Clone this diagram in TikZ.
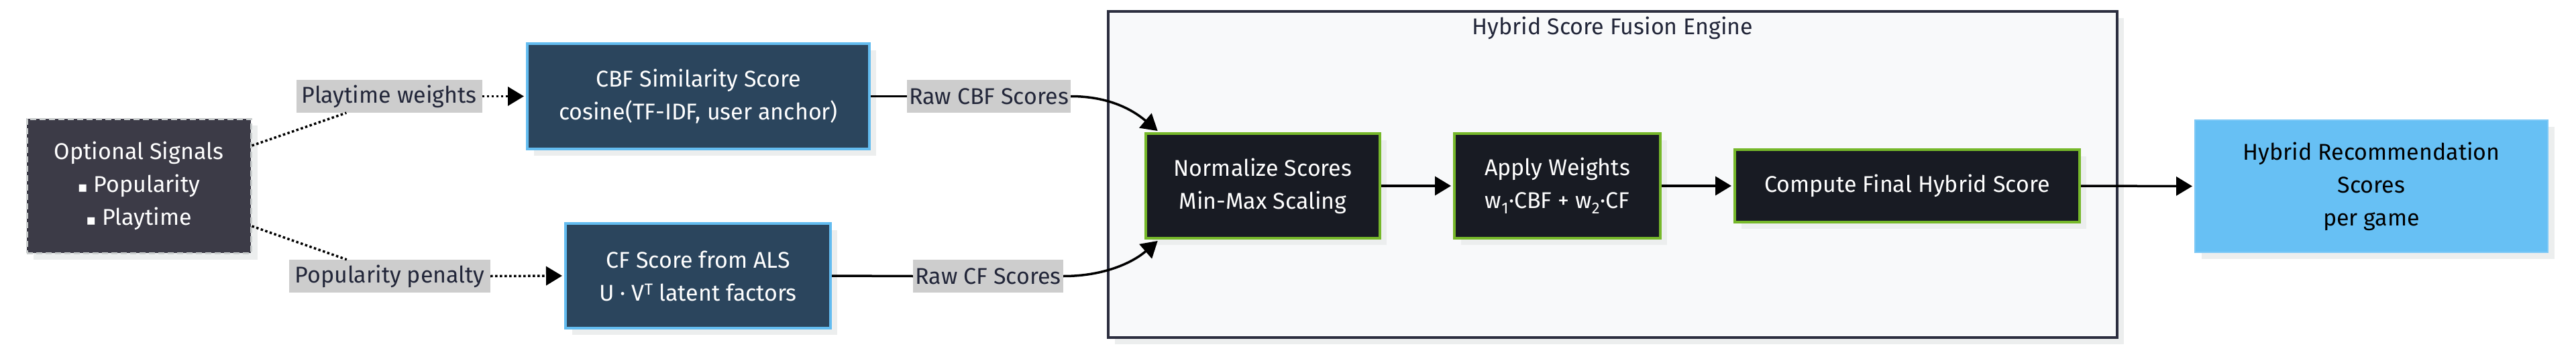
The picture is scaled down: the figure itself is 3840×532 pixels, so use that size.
\documentclass[tikz,border=0pt]{standalone}
\usepackage{fontspec}
\setmainfont{Fira Sans}
\newfontfamily\djv{DejaVu Sans}
\usetikzlibrary{arrows.meta,calc,shadows}
\definecolor{optfill}{HTML}{3C3B47}
\definecolor{optborder}{HTML}{C9CDCD}
\definecolor{cbfill}{HTML}{2B455D}
\definecolor{cbborder}{HTML}{63BCF0}
\definecolor{ngfill}{HTML}{181B23}
\definecolor{ngborder}{HTML}{76B82A}
\definecolor{outfill}{HTML}{67C0F4}
\definecolor{grpfill}{HTML}{F8F9FA}
\definecolor{grpborder}{HTML}{2C2E3F}
\definecolor{lblgray}{HTML}{CDCDCD}
\definecolor{lbltext}{HTML}{222639}
\definecolor{shadowgray}{HTML}{ECEEEE}
\tikzset{
  shad/.style={drop shadow={shadow xshift=10pt, shadow yshift=-10pt, fill=shadowgray, opacity=1}},
  basebox/.style={rectangle, inner sep=0pt, align=center, font=\fontsize{34}{49}\selectfont, shad},
  bluebox/.style={basebox, fill=cbfill, draw=cbborder, line width=4pt, text=white},
  greenbox/.style={basebox, fill=ngfill, draw=ngborder, line width=4pt, text=white},
  optbox/.style={basebox, fill=optfill, draw=optborder, line width=3pt, dash pattern=on 9pt off 5pt, text=white},
  outbox/.style={basebox, fill=outfill, draw=outfill!85!white, line width=2pt, text=black},
  grpbox/.style={rectangle, inner sep=0pt, fill=grpfill, draw=grpborder, line width=3.5pt, shad},
  lbl/.style={rectangle, fill=lblgray, text=lbltext, inner xsep=1pt, inner ysep=0pt, minimum height=49pt, font=\fontsize{34}{40}\selectfont},
  tip/.style={-{Triangle[length=24pt,width=28pt]}, shorten >=3pt},
  solidline/.style={line width=3.5pt, black},
  dotline/.style={line width=3.5pt, black, dash pattern=on 3.5pt off 3.5pt},
}
\begin{document}
\begin{tikzpicture}[x=1pt,y=-1pt]
\useasboundingbox (0,0) rectangle (3840,532);
% group
\node[grpbox, minimum width=1504pt, minimum height=486pt] (grp) at (2404,260) {};
\node[text=lbltext, font=\fontsize{34}{40}\selectfont] (title) at (2404,42) {Hybrid Score Fusion Engine};
% nodes
\node[optbox, minimum width=334pt, minimum height=200pt] (opt) at (207,277)
  {Optional Signals\\ {\djv\fontsize{22}{49}\selectfont ▪} Popularity\\ {\djv\fontsize{22}{49}\selectfont ▪} Playtime};
\node[lbl, minimum width=277pt] (pw) at (580,143.5) {Playtime weights};
\node[lbl, minimum width=300pt] (pp) at (581,411.5) {Popularity penalty};
\node[bluebox, minimum width=510pt, minimum height=157pt] (cbf) at (1041,143.5)
  {CBF Similarity Score\\ cosine(TF-IDF, user anchor)};
\node[bluebox, minimum width=395pt, minimum height=156pt] (cf) at (1040.5,411)
  {CF Score from ALS\\ U · V\textsuperscript{T} latent factors};
\node[lbl, minimum width=244pt] (rawcbf) at (1474,143.5) {Raw CBF Scores};
\node[lbl, minimum width=224pt] (rawcf) at (1473,411.5) {Raw CF Scores};
\node[greenbox, minimum width=349pt, minimum height=156pt] (norm) at (1882.5,277)
  {Normalize Scores\\ Min-Max Scaling};
\node[greenbox, minimum width=307pt, minimum height=156pt] (apply) at (2321.5,277)
  {Apply Weights\\ w\textsubscript{1}·CBF + w\textsubscript{2}·CF};
\node[greenbox, minimum width=514pt, minimum height=108pt] (comp) at (2843,277)
  {Compute Final Hybrid Score};
\node[outbox, minimum width=526pt, minimum height=197pt] (out) at (3535,277.5)
  {Hybrid Recommendation\\ Scores\\ per game};
% anchor coordinates
\coordinate (optup) at ($(opt.east)+(0,-60)$);
\coordinate (optdn) at ($(opt.east)+(0,60)$);
\coordinate (pwin) at ($(pw.south west)+(75,0)$);
\coordinate (ppin) at ($(pp.north west)+(86,0)$);
\coordinate (normtop) at ($(norm.north west)+(22,0)$);
\coordinate (normbot) at ($(norm.south west)+(22,0)$);
% connectors
\draw[dotline] (optup) -- (pwin);
\draw[dotline, tip] (pw.east) -- (cbf.west);
\draw[dotline] (optdn) -- (ppin);
\draw[dotline, tip] (pp.east) -- (cf.west);
\draw[solidline] (cbf.east) -- (rawcbf.west);
\draw[solidline, tip] (rawcbf.east) .. controls (1655,143.5) and (1690,165) .. (normtop);
\draw[solidline] (cf.east) -- (rawcf.west);
\draw[solidline, tip] (rawcf.east) .. controls (1648,411.5) and (1690,390) .. (normbot);
\draw[solidline, tip] (norm.east) -- (apply.west);
\draw[solidline, tip] (apply.east) -- (comp.west);
\draw[solidline, tip] (comp.east) -- (out.west);
\end{tikzpicture}
\end{document}
